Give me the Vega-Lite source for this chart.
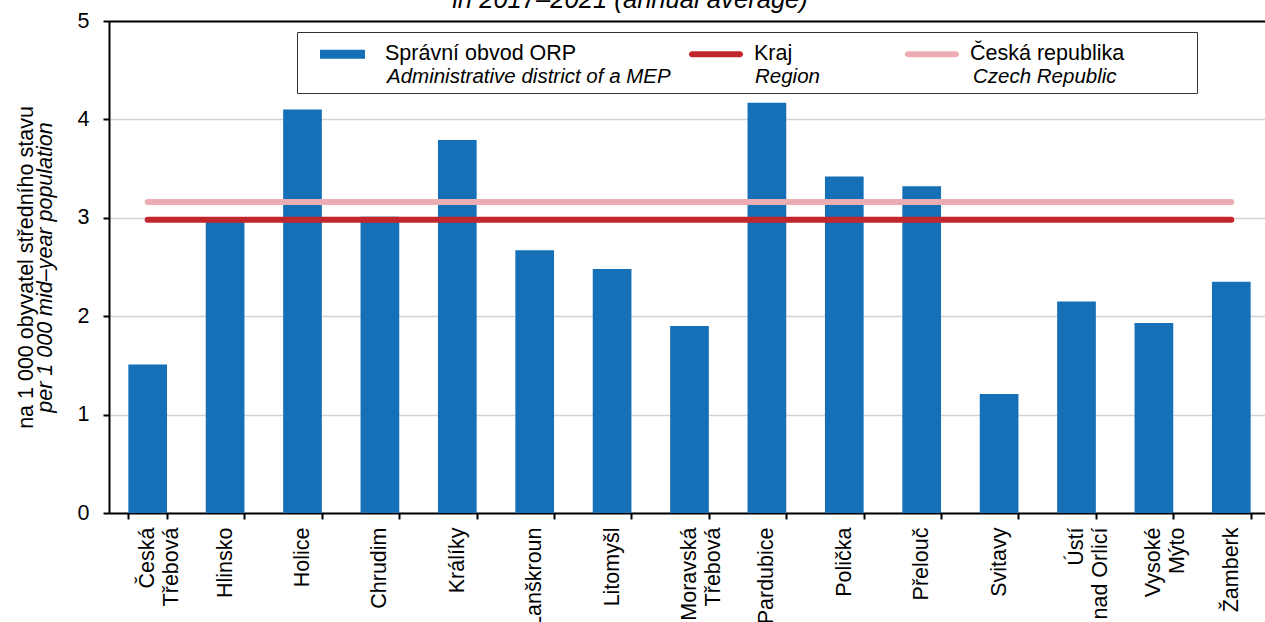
{
  "$schema": "https://vega.github.io/schema/vega-lite/v6.json",
  "width": 1156,
  "height": 492,
  "autosize": {"type": "none"},
  "padding": {"left": 109, "top": 21, "right": 0, "bottom": 109},
  "background": "white",
  "title": {
    "text": "in 2017–2021 (annual average)",
    "font": "Liberation Sans",
    "fontSize": 25.6,
    "fontStyle": "italic",
    "fontWeight": "normal",
    "color": "black",
    "baseline": "alphabetic",
    "frame": "group",
    "anchor": "middle",
    "offset": -24,
    "dx": -57
  },
  "config": {
    "font": "Liberation Sans",
    "view": {"stroke": null},
    "axis": {
      "labelFont": "Liberation Sans",
      "titleFont": "Liberation Sans",
      "labelColor": "black",
      "titleColor": "black",
      "labelFontSize": 21.5,
      "titleFontSize": 21.5,
      "titleFontWeight": "normal",
      "domainColor": "black",
      "domainWidth": 2,
      "tickColor": "black",
      "tickWidth": 2,
      "tickSize": 6
    }
  },
  "data": {
    "values": [
      {"orp": "Česká Třebová", "value": 1.51, "kraj": 2.98, "cr": 3.16},
      {"orp": "Hlinsko", "value": 2.99, "kraj": 2.98, "cr": 3.16},
      {"orp": "Holice", "value": 4.10, "kraj": 2.98, "cr": 3.16},
      {"orp": "Chrudim", "value": 3.01, "kraj": 2.98, "cr": 3.16},
      {"orp": "Králíky", "value": 3.79, "kraj": 2.98, "cr": 3.16},
      {"orp": "Lanškroun", "value": 2.67, "kraj": 2.98, "cr": 3.16},
      {"orp": "Litomyšl", "value": 2.48, "kraj": 2.98, "cr": 3.16},
      {"orp": "Moravská Třebová", "value": 1.90, "kraj": 2.98, "cr": 3.16},
      {"orp": "Pardubice", "value": 4.17, "kraj": 2.98, "cr": 3.16},
      {"orp": "Polička", "value": 3.42, "kraj": 2.98, "cr": 3.16},
      {"orp": "Přelouč", "value": 3.32, "kraj": 2.98, "cr": 3.16},
      {"orp": "Svitavy", "value": 1.21, "kraj": 2.98, "cr": 3.16},
      {"orp": "Ústí nad Orlicí", "value": 2.15, "kraj": 2.98, "cr": 3.16},
      {"orp": "Vysoké Mýto", "value": 1.93, "kraj": 2.98, "cr": 3.16},
      {"orp": "Žamberk", "value": 2.35, "kraj": 2.98, "cr": 3.16}
    ]
  },
  "resolve": {"axis": {"x": "independent", "y": "independent"}},
  "layer": [
    {
      "mark": {"type": "bar"},
      "encoding": {
        "x": {
          "field": "orp",
          "type": "nominal",
          "sort": null,
          "scale": {"paddingInner": 0.5, "paddingOuter": 0.2177, "align": 0.574},
          "axis": {
            "title": null,
            "labelAngle": 270,
            "labelAlign": "right",
            "labelBaseline": "middle",
            "labelPadding": 8,
            "labelLineHeight": 24,
            "tickBand": "extent",
            "labelExpr": "isValid(datum.value) ? (datum.value == 'Ústí nad Orlicí' ? ['Ústí', 'nad Orlicí'] : split(datum.value, ' ')) : ''"
          }
        },
        "y": {
          "field": "value",
          "type": "quantitative",
          "scale": {"domain": [0, 5], "nice": false},
          "axis": {
            "title": "na 1 000 obyvatel středního stavu",
            "values": [0, 1, 2, 3, 4, 5],
            "grid": true,
            "gridColor": "#d2d2d2",
            "gridWidth": 1.5,
            "labelPadding": 14,
            "titlePadding": 40
          }
        },
        "color": {
          "datum": "Správní obvod ORP",
          "scale": {
            "domain": ["Správní obvod ORP", "Kraj", "Česká republika"],
            "range": ["#1570b7", "#c1262d", "#ebadb2"]
          },
          "legend": {
            "title": null,
            "orient": "none",
            "legendX": 188,
            "legendY": 12,
            "direction": "horizontal",
            "symbolType": "M0.133,-0.3H3.133V0.3H0.133Z",
            "symbolSize": 900,
            "symbolStrokeWidth": 0,
            "labelFont": "Liberation Sans",
            "labelFontSize": 21.5,
            "labelColor": "black",
            "labelOffset": 52,
            "labelLimit": 800,
            "columnPadding": 0,
            "padding": 6,
            "encode": {
              "symbols": {
                "update": {
                  "shape": {"signal": "datum.value == 'Správní obvod ORP' ? 'M0.133,-0.3H3.133V0.3H0.133Z' : 'M0.333,-0.2H3.533A0.2,0.2 0 0 1 3.533,0.2H0.333A0.2,0.2 0 0 1 0.333,-0.2Z'"}
                }
              }
            },
            "labelExpr": "datum.value == 'Správní obvod ORP' ? 'Správní obvod ORP\u00a0\u00a0\u00a0\u00a0\u00a0\u00a0\u00a0\u00a0\u00a0\u00a0\u00a0\u00a0\u00a0\u00a0\u00a0\u00a0\u200b' : datum.value == 'Kraj' ? 'Kraj\u00a0\u00a0\u00a0\u00a0\u00a0\u00a0\u00a0\u00a0\u00a0\u00a0\u00a0\u00a0\u00a0\u00a0\u00a0\u00a0\u200b' : datum.value"
          }
        }
      }
    },
    {
      "mark": {"type": "line", "strokeWidth": 6, "strokeCap": "round", "color": "#ebadb2"},
      "encoding": {
        "x": {
          "field": "orp",
          "type": "nominal",
          "sort": null,
          "axis": {"orient": "top", "title": null, "labels": false, "ticks": false, "domain": true}
        },
        "y": {
          "field": "cr",
          "type": "quantitative",
          "axis": {
            "orient": "left",
            "title": "per 1 000 mid–year population",
            "titleFontStyle": "italic",
            "labels": false,
            "ticks": false,
            "domain": false,
            "grid": false,
            "titlePadding": 53
          }
        }
      }
    },
    {
      "mark": {"type": "line", "strokeWidth": 6, "strokeCap": "round", "color": "#c1262d"},
      "encoding": {
        "x": {"field": "orp", "type": "nominal", "sort": null, "axis": null},
        "y": {"field": "kraj", "type": "quantitative", "axis": null},
        "strokeDash": {
          "datum": "Region",
          "scale": {
            "domain": ["Administrative district of a MEP", "Region", "Czech Republic"],
            "range": [[1, 0], [1, 0], [1, 0]]
          },
          "legend": {
            "title": null,
            "orient": "none",
            "legendX": 188,
            "legendY": 11,
            "direction": "horizontal",
            "symbolType": "M0.133,-0.27H3.133V0.27H0.133Z",
            "symbolSize": 900,
            "symbolOpacity": 0,
            "labelFont": "Liberation Sans",
            "labelFontSize": 20.5,
            "labelFontStyle": "italic",
            "labelColor": "black",
            "labelOffset": 52,
            "labelLimit": 800,
            "labelLineHeight": 21,
            "columnPadding": 0,
            "padding": 6,
            "strokeColor": "#333333",
            "labelExpr": "datum.value == 'Region' ? ['\u200b', 'Region\u00a0\u00a0\u00a0\u00a0\u00a0\u00a0\u00a0\u00a0\u00a0\u00a0\u00a0\u00a0\u200b'] : datum.value == 'Czech Republic' ? ['\u200b', 'Czech Republic\u00a0\u00a0\u00a0\u00a0\u00a0\u00a0\u00a0\u00a0\u00a0\u00a0\u00a0\u00a0\u00a0\u200b'] : ['\u200b', datum.value]"
          }
        }
      }
    }
  ]
}
